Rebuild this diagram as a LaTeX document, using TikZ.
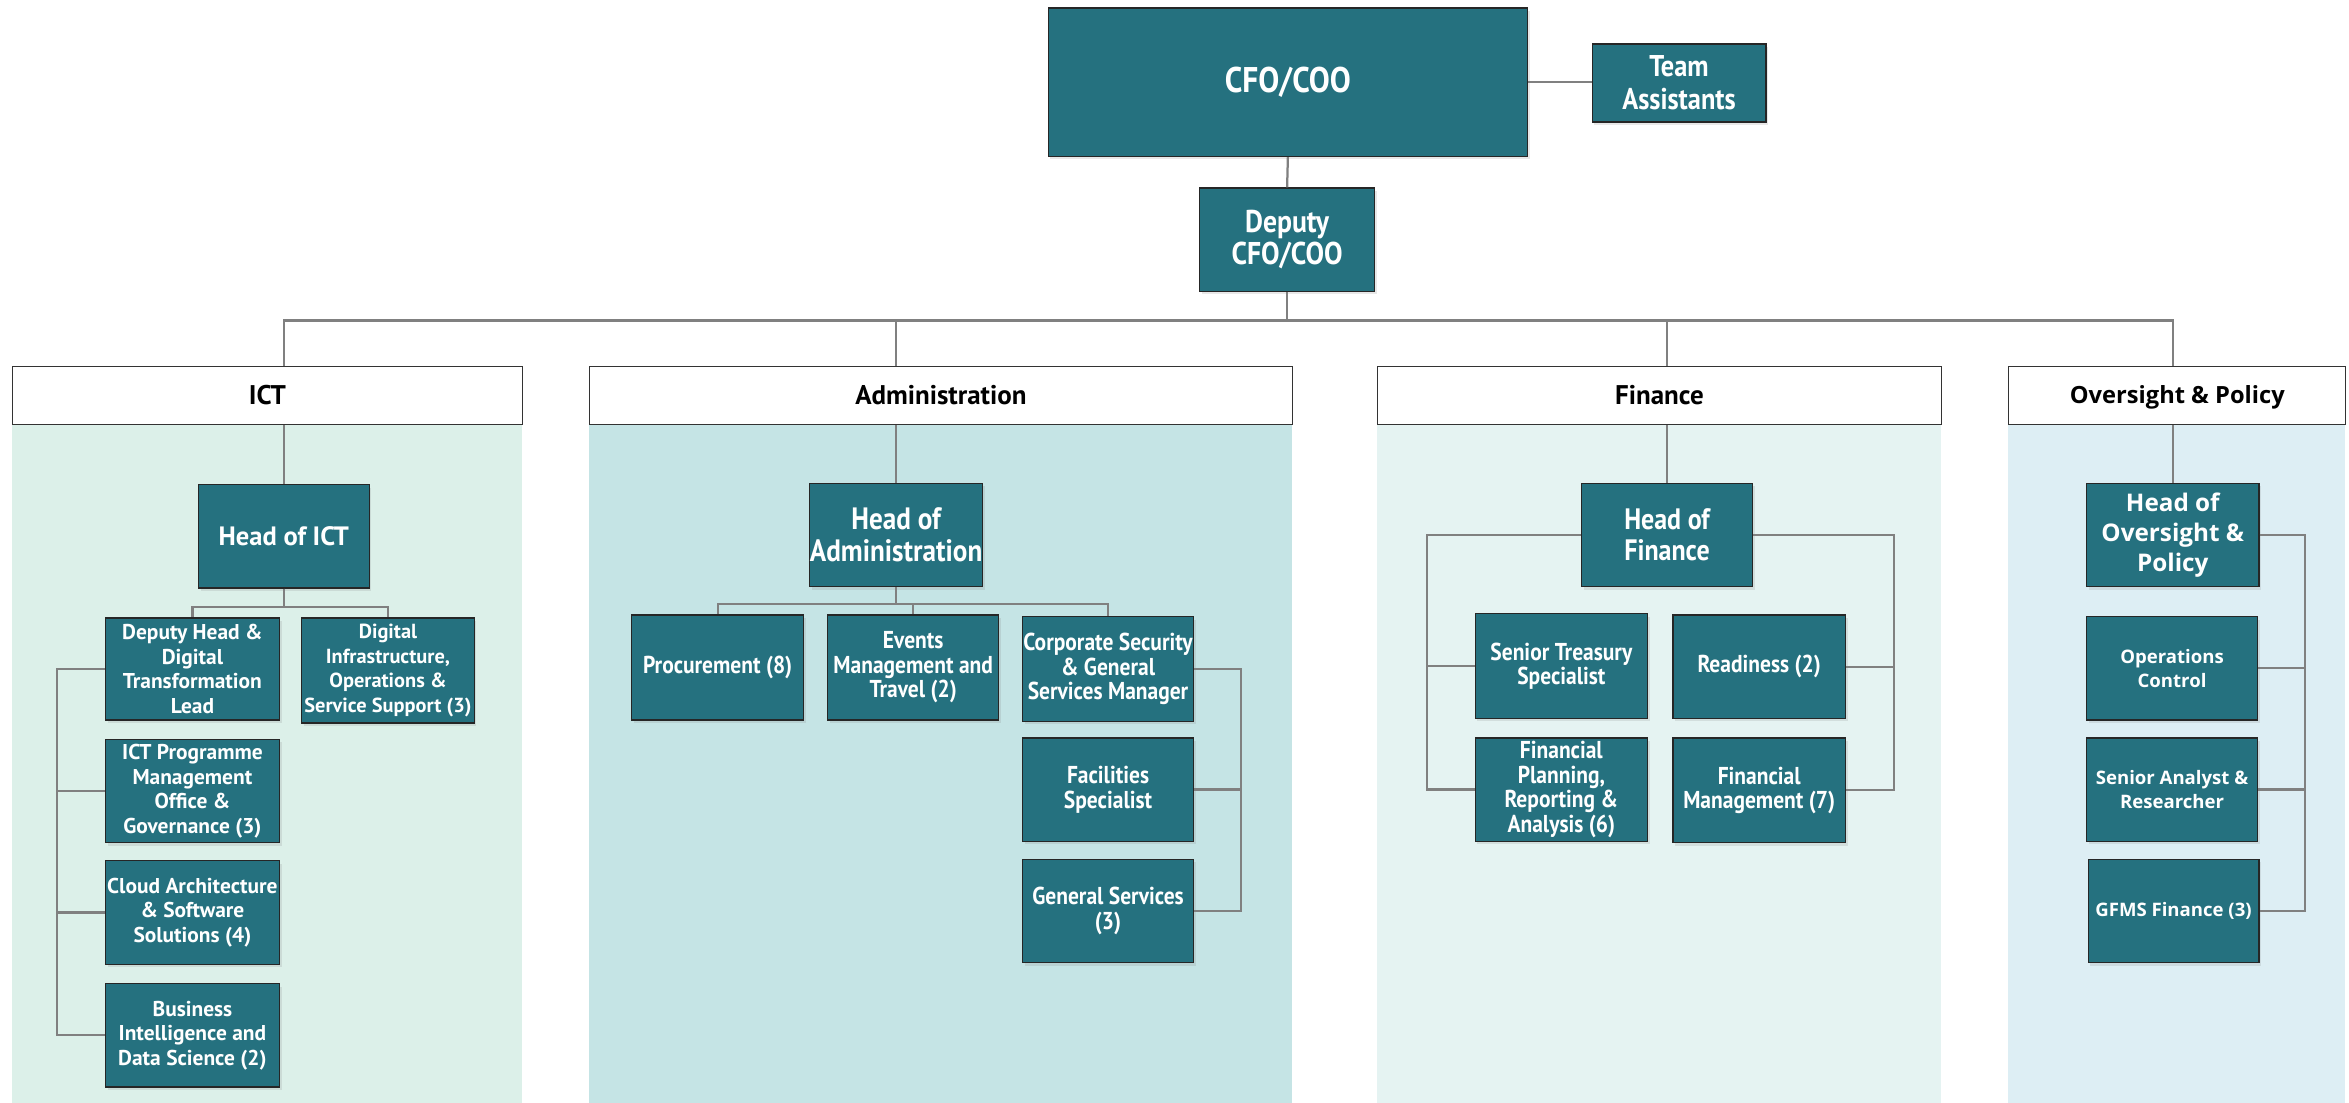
\documentclass[tikz,border=0pt]{standalone}
\usepackage{fontspec}
\setmainfont{PT Sans}
\newfontfamily\ptn[FakeStretch=0.88]{PT Sans}
\newfontfamily\osans{Open Sans}
\usetikzlibrary{shadows}
\definecolor{boxteal}{HTML}{25717F}
\definecolor{bgict}{HTML}{DCF0E9}
\definecolor{bgadm}{HTML}{C5E4E5}
\definecolor{bgfin}{HTML}{E5F3F2}
\definecolor{bgops}{HTML}{DDEEF4}
\definecolor{linegray}{HTML}{808080}
\tikzset{
  orgbox/.style={draw=black!85, line width=0.8pt, fill=boxteal, text=white, align=center,
    anchor=north west, inner sep=0pt,
    drop shadow={opacity=0.18, shadow xshift=1.5pt, shadow yshift=-2pt}},
  small/.style={font=\bfseries\fontsize{14.3}{16.4}\selectfont},
  smalln/.style={font=\ptn\bfseries\fontsize{16.3}{16.3}\selectfont},
  opsfont/.style={font=\osans\bfseries\fontsize{12.4}{16}\selectfont},
  headbox/.style={draw=black!80, line width=0.8pt, fill=white, anchor=north west,
    minimum height=39pt},
  headtext/.style={text=black, font=\bfseries\fontsize{18}{20}\selectfont},
  conn/.style={draw=linegray, line width=1.5pt},
}
\newcommand{\bx}[7]{% style, name, x1, y1, x2, y2, text
  \node[orgbox,#1, minimum width={(#5-#3)*1pt}, minimum height={(#6-#4)*1pt}] (#2) at (#3,#4) {#7};}
\begin{document}
\begin{tikzpicture}[x=1pt,y=-1pt]
\useasboundingbox (0,0) rectangle (1567.5,736);
% backgrounds
\fill[bgict] (8,283) rectangle (348,736);
\fill[bgadm] (393,283) rectangle (862,736);
\fill[bgfin] (919,283) rectangle (1295,736);
\fill[bgops] (1340,283) rectangle (1565,736);
% top
\bx{font=\ptn\bfseries\fontsize{23.8}{26}\selectfont}{cfo}{699}{5}{1019}{104}{CFO/COO}
\bx{font=\ptn\bfseries\fontsize{20}{22}\selectfont}{ta}{1062}{29}{1178}{81}{Team\\Assistants}
\bx{font=\ptn\bfseries\fontsize{21}{21}\selectfont}{dep}{800}{125}{917}{194}{Deputy\\CFO/COO}
\draw[conn] (cfo.east) -- (cfo.east -| ta.west);
\draw[conn] (cfo.south) -- (dep.north);
% headers
\node[headbox, minimum width=340pt] (hict) at (8,244) {};
\node[headtext] (tict) at (hict.center) {ICT};
\node[headbox, minimum width=469pt] (hadm) at (393,244) {};
\node[headtext] (tadm) at (hadm.center) {Administration};
\node[headbox, minimum width=376pt] (hfin) at (919,244) {};
\node[headtext] (tfin) at (hfin.center) {Finance};
\node[headbox, minimum width=225pt] (hops) at (1340,244) {};
\node[headtext, font=\osans\bfseries\fontsize{15.8}{18}\selectfont] (tops) at ([yshift=-1pt]hops.center) {Oversight \& Policy};
% ICT
\bx{font=\bfseries\fontsize{17.7}{20}\selectfont}{hoict}{132}{323}{246}{392}{Head of ICT}
\bx{small}{dh}{70}{412}{186}{480}{Deputy Head \&\\Digital\\Transformation\\Lead}
\bx{font=\bfseries\fontsize{13.6}{16.4}\selectfont}{di}{201}{412}{316}{482}{Digital\\Infrastructure,\\Operations \&\\Service Support (3)}
\bx{small}{pm}{70}{493}{186}{562}{ICT Programme\\Management\\Office \&\\Governance (3)}
\bx{small}{ca}{70}{574}{186}{643}{Cloud Architecture\\\& Software\\Solutions (4)}
\bx{small}{bi}{70}{656}{186}{725}{Business\\Intelligence and\\Data Science (2)}
% Administration
\bx{font=\ptn\bfseries\fontsize{20.6}{21}\selectfont}{hoadm}{540}{322}{655}{391}{Head of\\Administration}
\bx{smalln}{pr}{421}{410}{536}{480}{Procurement (8)}
\bx{smalln}{ev}{552}{410}{666}{480}{Events\\Management and\\Travel (2)}
\bx{smalln}{cs}{682}{411}{796}{481}{Corporate Security\\\& General\\Services Manager}
\bx{smalln}{fs}{682}{492}{796}{561}{Facilities\\Specialist}
\bx{smalln}{gs}{682}{573}{796}{642}{General Services\\(3)}
% Finance
\bx{font=\ptn\bfseries\fontsize{19.7}{21}\selectfont}{hofin}{1055}{322}{1169}{391}{Head of\\Finance}
\bx{smalln}{st}{984}{409}{1099}{479}{Senior Treasury\\Specialist}
\bx{smalln}{rd}{1116}{410}{1231}{479}{Readiness (2)}
\bx{smalln}{fp}{984}{492}{1099}{561}{Financial\\Planning,\\Reporting \&\\Analysis (6)}
\bx{smalln}{fm}{1116}{492}{1231}{562}{Financial\\Management (7)}
% Oversight
\bx{font=\osans\bfseries\fontsize{16.2}{20}\selectfont}{hoop}{1392}{322}{1507}{391}{Head of\\Oversight \&\\Policy}
\bx{opsfont}{oc}{1392}{411}{1506}{480}{Operations\\Control}
\bx{opsfont}{sa}{1392}{492}{1506}{561}{Senior Analyst \&\\Researcher}
\bx{opsfont}{gf}{1393}{573}{1507}{642}{GFMS Finance (3)}
% connectors from deputy to sections
\draw[conn] (dep.south) -- ++(0,19) -| (hoict.north |- hict.north);
\draw[conn] (dep.south) -- ++(0,19) -| (hoadm.north |- hadm.north);
\draw[conn] (dep.south) -- ++(0,19) -| (hofin.north |- hfin.north);
\draw[conn] (dep.south) -- ++(0,19) -| (hoop.north |- hops.north);
% ICT connectors
\draw[conn] (hoict.north |- hict.south) -- (hoict.north);
\draw[conn] (hoict.south) -- ++(0,12) -| (dh.north);
\draw[conn] (hoict.south) -- ++(0,12) -| (di.north);
\coordinate (ictsp) at (38,447);
\draw[conn] (dh.west) -- (dh.west -| ictsp) |- (bi.west);
\draw[conn] (pm.west) -- (pm.west -| ictsp);
\draw[conn] (ca.west) -- (ca.west -| ictsp);
% Administration connectors
\draw[conn] (hoadm.north |- hadm.south) -- (hoadm.north);
\draw[conn] (hoadm.south) -- ++(0,11) -| (pr.north);
\draw[conn] (hoadm.south) -- ++(0,11) -| (ev.north);
\draw[conn] (hoadm.south) -- ++(0,11) -| (cs.north);
\coordinate (admsp) at (828,446);
\draw[conn] (cs.east) -- (cs.east -| admsp) |- (gs.east);
\draw[conn] (fs.east) -- (fs.east -| admsp);
% Finance connectors
\draw[conn] (hofin.north |- hfin.south) -- (hofin.north);
\coordinate (finl) at (952,357);
\coordinate (finr) at (1264,357);
\draw[conn] (hofin.west) -- (hofin.west -| finl) |- (fp.west);
\draw[conn] (st.west) -- (st.west -| finl);
\draw[conn] (hofin.east) -- (hofin.east -| finr) |- (fm.east);
\draw[conn] (rd.east) -- (rd.east -| finr);
% Oversight connectors
\draw[conn] (hoop.north |- hops.south) -- (hoop.north);
\coordinate (opsp) at (1538,360);
\draw[conn] (hoop.east) -- (hoop.east -| opsp) |- (gf.east);
\draw[conn] (oc.east) -- (oc.east -| opsp);
\draw[conn] (sa.east) -- (sa.east -| opsp);
\end{tikzpicture}
\end{document}
